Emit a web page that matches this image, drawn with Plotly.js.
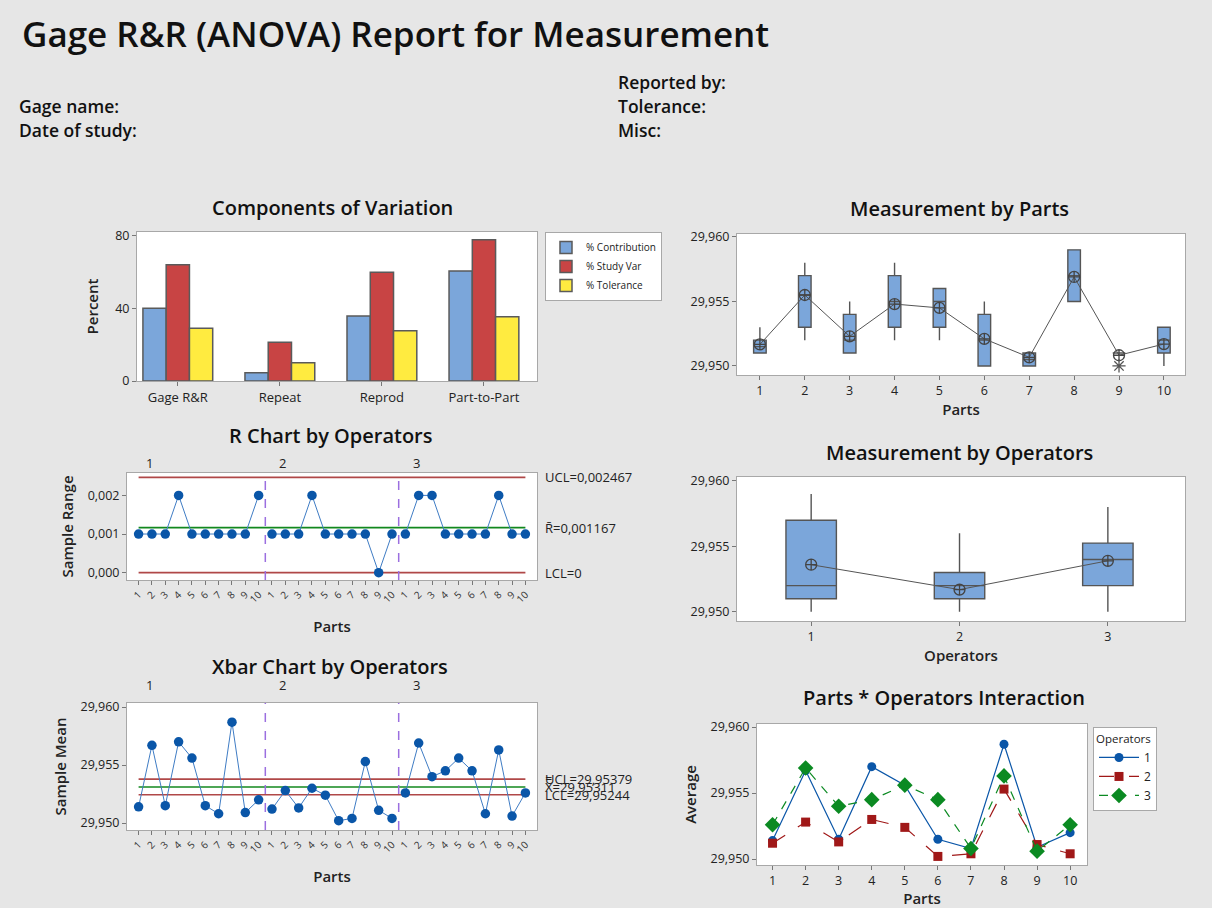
<!DOCTYPE html>
<html><head><meta charset="utf-8">
<script src="https://cdn.plot.ly/plotly-3.0.1.min.js"></script>
<style>html,body{margin:0;padding:0;background:#e6e6e6;} #chart{width:1212px;height:908px;}</style>
</head><body><div id="chart"></div>
<script>
// ---------- DATA ----------
const components = ['Gage R&R', 'Repeat', 'Reprod', 'Part-to-Part'];
const pctContribution = [40.0, 4.6, 35.8, 60.5];
const pctStudyVar = [64.0, 21.3, 59.9, 77.8];
const pctTolerance = [29.0, 10.1, 27.6, 35.3];

const parts = [1, 2, 3, 4, 5, 6, 7, 8, 9, 10];
const partQ1 =     [29.951, 29.953, 29.951, 29.953, 29.953, 29.950, 29.950, 29.955, 29.951, 29.951];
const partMedian = [29.9515,29.9555,29.952, 29.955, 29.955, 29.952, 29.9505,29.957, 29.951, 29.952];
const partQ3 =     [29.952, 29.957, 29.954, 29.957, 29.956, 29.954, 29.951, 29.959, 29.951, 29.953];
const partLow =    [29.951, 29.952, 29.951, 29.952, 29.952, 29.950, 29.950, 29.955, 29.951, 29.950];
const partHigh =   [29.953, 29.958, 29.955, 29.958, 29.956, 29.955, 29.951, 29.959, 29.951, 29.953];
const partMean =   [29.95167,29.9555,29.9523,29.9548,29.9545,29.9521,29.95067,29.9569,29.95083,29.9517];
const outlierPart = [9];
const outlierValue = [29.950];

const operators = [1, 2, 3];
const opQ1 =     [29.951, 29.951, 29.952];
const opMedian = [29.952, 29.952, 29.954];
const opQ3 =     [29.957, 29.953, 29.95525];
const opLow =    [29.950, 29.950, 29.950];
const opHigh =   [29.959, 29.956, 29.958];
const opMean =   [29.9536, 29.9517, 29.9539];

const rangeOp1 = [0.001, 0.001, 0.001, 0.002, 0.001, 0.001, 0.001, 0.001, 0.001, 0.002];
const rangeOp2 = [0.001, 0.001, 0.001, 0.002, 0.001, 0.001, 0.001, 0.001, 0.000, 0.001];
const rangeOp3 = [0.001, 0.002, 0.002, 0.001, 0.001, 0.001, 0.001, 0.002, 0.001, 0.001];
const rUCL = 0.002467, rBar = 0.001167, rLCL = 0;

const meanOp1 = [29.9514, 29.9567, 29.9515, 29.9570, 29.9556, 29.9515, 29.9508, 29.9587, 29.9509, 29.9520];
const meanOp2 = [29.9512, 29.9528, 29.9513, 29.9530, 29.9524, 29.9502, 29.9504, 29.9553, 29.9511, 29.9504];
const meanOp3 = [29.9526, 29.9569, 29.9540, 29.9545, 29.9556, 29.9545, 29.9508, 29.9563, 29.9506, 29.9526];
const xUCL = 29.95379, xDoubleBar = 29.95311, xLCL = 29.95244;

// ---------- HELPERS ----------
const W = 1212, H = 908;
const px = v => v / W;
const py = v => 1 - v / H;
const F = 'Open Sans, Noto Sans, sans-serif';
const dec = (v, d) => v.toFixed(d).replace('.', ',');

const rangesByOp = [rangeOp1, rangeOp2, rangeOp3];
const meansByOp = [meanOp1, meanOp2, meanOp3];
const nP = parts.length;
const sampleX = [];
const sampleText = [];
operators.forEach((o, k) => parts.forEach((p, i) => { sampleX.push(k * nP + i + 1); sampleText.push(String(p)); }));
const opX = k => parts.map((p, i) => k * nP + i + 1);

const barColors = ['#7BA6DA', '#C84444', '#FFEB40'];
const ptBlue = '#0A56A8';
const lineBlue = '#3F7CC4';
const limitRed = '#B04848';
const centerGreen = '#12881E';
const divPurple = '#9B6FE0';
const boxFill = '#7BA6DA';
const dark = '#555555';

const traces = [];
// Components of variation
[['% Contribution', pctContribution], ['% Study Var', pctStudyVar], ['% Tolerance', pctTolerance]].forEach((s, i) => {
  traces.push({type: 'bar', name: s[0], x: components, y: s[1], xaxis: 'x', yaxis: 'y',
    marker: {color: barColors[i], line: {color: '#5a5a5a', width: 1.5}}, legend: 'legend', hoverinfo: 'skip'});
});
// Measurement by parts
traces.push({type: 'box', x: parts, q1: partQ1, median: partMedian, q3: partQ3, lowerfence: partLow, upperfence: partHigh,
  xaxis: 'x2', yaxis: 'y2', width: 0.28, whiskerwidth: 0, fillcolor: boxFill, line: {color: dark, width: 1.4},
  boxpoints: false, showlegend: false, hoverinfo: 'skip'});
traces.push({type: 'scatter', mode: 'lines+markers', x: parts, y: partMean, xaxis: 'x2', yaxis: 'y2',
  line: {color: dark, width: 1}, marker: {symbol: 'circle-cross-open', size: 11, color: '#444', line: {width: 1.3}},
  showlegend: false, hoverinfo: 'skip'});
traces.push({type: 'scatter', mode: 'markers', x: outlierPart, y: outlierValue, xaxis: 'x2', yaxis: 'y2',
  marker: {symbol: 'asterisk-open', size: 11, color: dark, line: {width: 1.3, color: dark}}, showlegend: false, hoverinfo: 'skip'});
// Measurement by operators
traces.push({type: 'box', x: operators, q1: opQ1, median: opMedian, q3: opQ3, lowerfence: opLow, upperfence: opHigh,
  xaxis: 'x3', yaxis: 'y3', width: 0.34, whiskerwidth: 0, fillcolor: boxFill, line: {color: dark, width: 1.4},
  boxpoints: false, showlegend: false, hoverinfo: 'skip'});
traces.push({type: 'scatter', mode: 'lines+markers', x: operators, y: opMean, xaxis: 'x3', yaxis: 'y3',
  line: {color: dark, width: 1}, marker: {symbol: 'circle-cross-open', size: 11, color: '#444', line: {width: 1.3}},
  showlegend: false, hoverinfo: 'skip'});

// Control chart helper
function controlChart(xa, ya, series, ucl, cl, lcl) {
  const x0 = sampleX[0], x1 = sampleX[sampleX.length - 1];
  [[ucl, limitRed], [lcl, limitRed], [cl, centerGreen]].forEach(l => {
    traces.push({type: 'scatter', mode: 'lines', x: [x0, x1], y: [l[0], l[0]], xaxis: xa, yaxis: ya,
      line: {color: l[1], width: 1.6}, showlegend: false, hoverinfo: 'skip'});
  });
  series.forEach((vals, k) => {
    traces.push({type: 'scatter', mode: 'lines+markers', x: opX(k), y: vals, xaxis: xa, yaxis: ya,
      line: {color: lineBlue, width: 1}, marker: {color: ptBlue, size: 9.5},
      showlegend: false, hoverinfo: 'skip'});
  });
}
controlChart('x4', 'y4', rangesByOp, rUCL, rBar, rLCL);
controlChart('x5', 'y5', meansByOp, xUCL, xDoubleBar, xLCL);

// Interaction
const interStyles = [
  {color: '#0A56A8', symbol: 'circle', dash: 'solid', size: 9},
  {color: '#A01818', symbol: 'square', dash: 'longdash', size: 9},
  {color: '#0B8A22', symbol: 'diamond', dash: 'dash', size: 12}
];
meansByOp.forEach((vals, k) => {
  const s = interStyles[k];
  traces.push({type: 'scatter', mode: 'lines+markers', name: String(operators[k]), x: parts, y: vals,
    xaxis: 'x6', yaxis: 'y6', legend: 'legend2',
    line: {color: s.color, width: 1.2, dash: s.dash}, marker: {color: s.color, symbol: s.symbol, size: s.size},
    hoverinfo: 'skip'});
});

// ---------- LAYOUT ----------
const baseAx = o => Object.assign({showline: true, mirror: true, linecolor: '#a8a8a8', linewidth: 1,
  ticks: 'outside', ticklen: 4, tickcolor: '#777', showgrid: false, zeroline: false,
  tickfont: {size: 12.5, color: '#222', family: F}, fixedrange: true, automargin: false}, o);
const axTitle = (t, st) => ({text: t, font: {size: 15, color: '#222', family: F, weight: 600}, standoff: st});

const layout = {
  width: W, height: H, margin: {l: 0, r: 0, t: 0, b: 0},
  paper_bgcolor: '#e6e6e6', plot_bgcolor: '#ffffff',
  separators: ', ',
  font: {family: F, size: 12, color: '#222'},
  barmode: 'group', bargap: 0.316, bargroupgap: 0,
  showlegend: true,
  xaxis: baseAx({type: 'category', domain: [px(137), px(537)], anchor: 'y', range: [-0.4, 3.52], tickfont: {size: 13, color: '#222'}}),
  yaxis: baseAx({domain: [py(381), py(232)], anchor: 'x', range: [0, 82], tickvals: [0, 40, 80], title: axTitle('Percent', 12)}),
  xaxis2: baseAx({domain: [px(737), px(1185)], anchor: 'y2', range: [0.49, 10.47], tickvals: parts, title: axTitle('Parts', 6)}),
  yaxis2: baseAx({domain: [py(375), py(234)], anchor: 'x2', range: [29.9493, 29.96023], tickvals: [29.95, 29.955, 29.96], tickformat: '.3f'}),
  xaxis3: baseAx({domain: [px(737), px(1185)], anchor: 'y3', range: [0.5, 3.52], tickvals: operators, title: axTitle('Operators', 6)}),
  yaxis3: baseAx({domain: [py(621), py(477)], anchor: 'x3', range: [29.9493, 29.9603], tickvals: [29.95, 29.955, 29.96], tickformat: '.3f'}),
  xaxis4: baseAx({domain: [px(127), px(537)], anchor: 'y4', range: [0.13, 30.87], tickvals: sampleX, ticktext: sampleText, tickangle: -45, tickfont: {size: 10, color: '#333'}, title: axTitle('Parts', 16)}),
  yaxis4: baseAx({domain: [py(580), py(473)], anchor: 'x4', range: [-0.00019, 0.00258], tickvals: [0, 0.001, 0.002], tickformat: '.3f', title: axTitle('Sample Range', 10)}),
  xaxis5: baseAx({domain: [px(127), px(537)], anchor: 'y5', range: [0.13, 30.87], tickvals: sampleX, ticktext: sampleText, tickangle: -45, tickfont: {size: 10, color: '#333'}, title: axTitle('Parts', 16)}),
  yaxis5: baseAx({domain: [py(830), py(703)], anchor: 'x5', range: [29.9494, 29.96035], tickvals: [29.95, 29.955, 29.96], tickformat: '.3f', title: axTitle('Sample Mean', 10)}),
  xaxis6: baseAx({domain: [px(757), px(1087)], anchor: 'y6', range: [0.53, 10.51], tickvals: parts, title: axTitle('Parts', 2)}),
  yaxis6: baseAx({domain: [py(865), py(724)], anchor: 'x6', range: [29.94955, 29.96023], tickvals: [29.95, 29.955, 29.96], tickformat: '.3f', title: axTitle('Average', 10)}),
  legend: {x: px(545), y: py(232), xanchor: 'left', yanchor: 'top', bgcolor: '#ffffff', bordercolor: '#a8a8a8', borderwidth: 1,
    font: {size: 10, color: '#222'}, tracegroupgap: 0, itemwidth: 30, traceorder: 'normal'},
  legend2: {x: px(1093), y: py(727), xanchor: 'left', yanchor: 'top', bgcolor: '#ffffff', bordercolor: '#a8a8a8', borderwidth: 1,
    font: {size: 12, color: '#222'}, title: {text: 'Operators', side: 'top', font: {size: 11.5}}, tracegroupgap: 0, itemwidth: 40},
  shapes: [],
  annotations: []
};

// dashed operator dividers
[['x4', 'y4 domain'], ['x5', 'y5 domain']].forEach(r => {
  for (let k = 1; k < operators.length; k++) {
    layout.shapes.push({type: 'line', xref: r[0], yref: r[1], x0: k * nP + 0.5, x1: k * nP + 0.5, y0: 0, y1: 1,
      line: {color: divPurple, width: 1.5, dash: 'dash'}});
  }
});

const ann = (text, x, y, size, opts) => layout.annotations.push(Object.assign({text, x: px(x), y: py(y), xref: 'paper', yref: 'paper',
  showarrow: false, xanchor: 'center', yanchor: 'middle', font: {family: F, size, color: '#111'}}, opts || {}));

// main title and header
ann('Gage R&R (ANOVA) Report for Measurement', 20, 33, 35, {xanchor: 'left', font: {family: F, size: 35, color: '#111', weight: 600}});
const hdr = {family: F, size: 17.5, color: '#111', weight: 600};
ann('Reported by:', 616, 82, 17.5, {xanchor: 'left', font: hdr});
ann('Tolerance:', 616, 106, 17.5, {xanchor: 'left', font: hdr});
ann('Misc:', 616, 130, 17.5, {xanchor: 'left', font: hdr});
ann('Gage name:', 17, 106, 17.5, {xanchor: 'left', font: hdr});
ann('Date of study:', 17, 130, 17.5, {xanchor: 'left', font: hdr});

// panel titles
const ptitle = (t, x, y) => ann(t, x, y, 20, {font: {family: F, size: 20, color: '#111', weight: 600}});
ptitle('Components of Variation', 332, 207);
ptitle('Measurement by Parts', 959, 208);
ptitle('R Chart by Operators', 330, 435);
ptitle('Measurement by Operators', 959, 452);
ptitle('Xbar Chart by Operators', 330, 666);
ptitle('Parts * Operators Interaction', 944, 697);

// operator group labels above control charts
operators.forEach((o, k) => {
  const gx = k * nP + 1.8;
  layout.annotations.push({text: String(o), xref: 'x4', yref: 'paper', x: gx, y: py(463), showarrow: false,
    font: {family: F, size: 13, color: '#222'}});
  layout.annotations.push({text: String(o), xref: 'x5', yref: 'paper', x: gx, y: py(696), showarrow: false,
    font: {family: F, size: 13, color: '#222'}});
});

// control limit labels
const limLab = (t, ya, yv) => layout.annotations.push({text: t, xref: 'paper', yref: ya, x: px(543), y: yv, xanchor: 'left',
  yanchor: 'middle', showarrow: false, font: {family: F, size: 13, color: '#222'}});
limLab('UCL=' + dec(rUCL, 6), 'y4', rUCL);
limLab('R\u0304=' + dec(rBar, 6), 'y4', rBar);
limLab('LCL=' + dec(rLCL, 0), 'y4', rLCL);
limLab('UCL=' + dec(xUCL, 5), 'y5', xUCL);
limLab('X\u033F=' + dec(xDoubleBar, 5), 'y5', xDoubleBar);
limLab('LCL=' + dec(xLCL, 5), 'y5', xLCL);

Plotly.newPlot('chart', traces, layout, {displayModeBar: false, staticPlot: true});
</script>
</body></html>
